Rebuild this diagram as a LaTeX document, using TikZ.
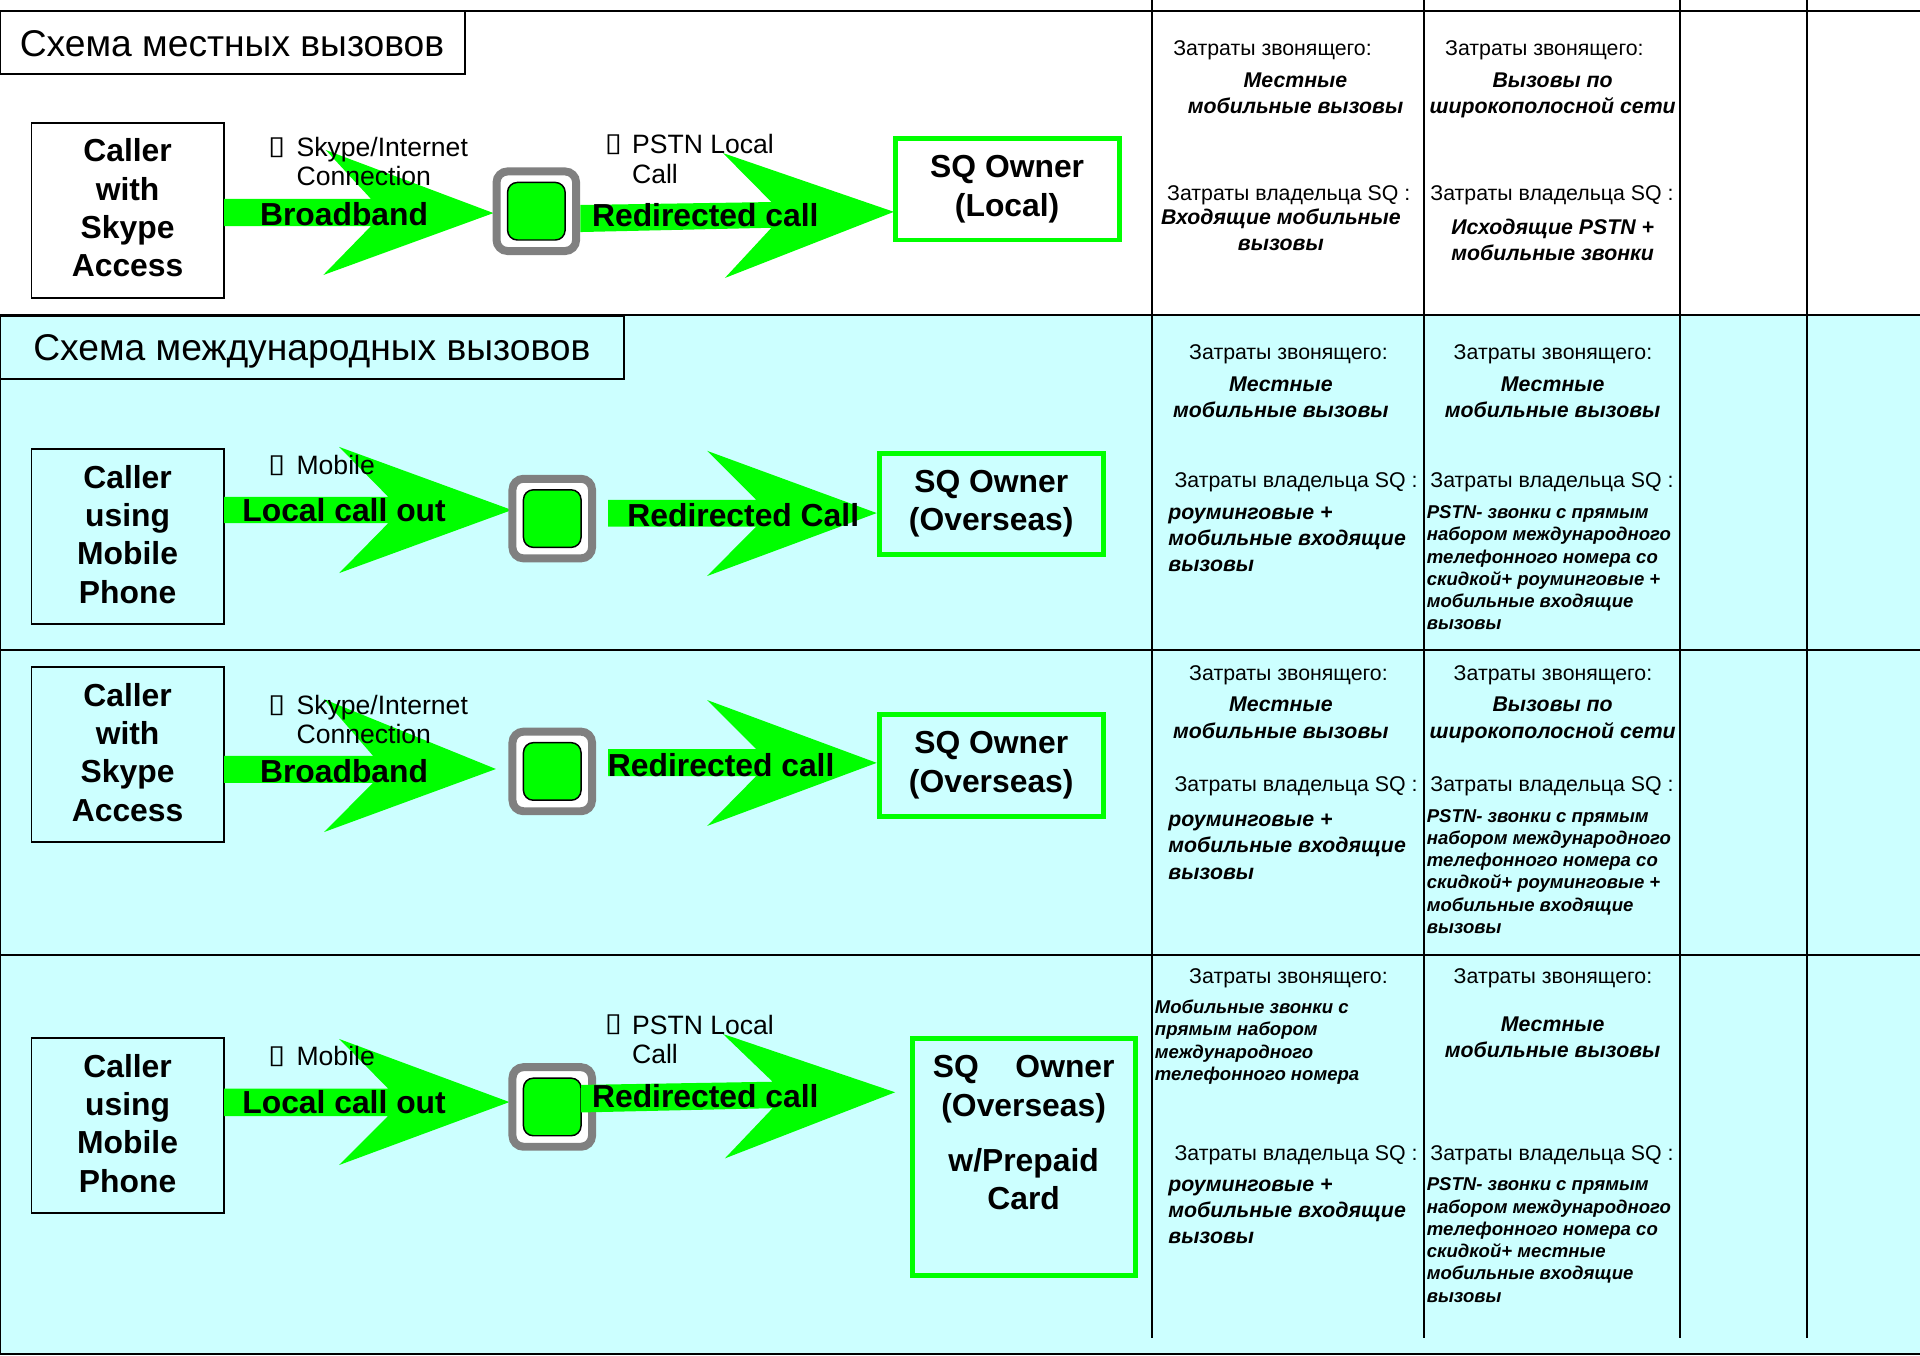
\documentclass[tikz,border=0pt]{standalone}
\usepackage{fontspec}
\setmainfont{Liberation Sans}
\newfontfamily\tofufont{DejaVu Sans}
\definecolor{bgcyan}{HTML}{CCFFFF}
\definecolor{arrowgreen}{HTML}{00FF00}
\definecolor{framegray}{HTML}{808080}
\newcommand{\tofu}{\scalebox{1.5}[1.25]{\tofufont\fontsize{17}{17}\selectfont ▯}}
% block arrow: left x, left top y, left bottom y, notch x, notch top y, notch bottom y, tip top, apex, tip bottom
\newcommand{\blockarrow}[9]{\fill[arrowgreen] (#1,#2) -- (#4,#5) -- (#7) -- (#8) -- (#9) -- (#4,#6) -- (#1,#3) -- cycle;}
\newcommand{\dialbox}[3]{% name, outer left, outer top
  \node[dialouter] (#1o) at (#2+35.5,#3+36) {};
  \node[dialinner] (#1i) at (#1o.center) {};}
\tikzset{
  x=1pt,y=-1pt,
  tablerule/.style={line width=1.6pt,black},
  titlebox/.style={draw=black,line width=1.5pt,fill=#1,anchor=north west,minimum height=51.5pt,inner sep=0pt},
  titletext/.style={font=\fontsize{30.4}{36}\selectfont,text height=21.9pt,text depth=6.4pt,inner sep=0pt,anchor=west,yshift=-2.5pt},
  callerbox/.style={draw=black,line width=1.4pt,minimum width=157pt,minimum height=143pt,anchor=north west,inner sep=0pt,align=center,text depth=4pt,font=\fontsize{26}{31.3}\selectfont\bfseries},
  ownerbox/.style={draw=arrowgreen,line width=4pt,fill=#1,anchor=north west,inner sep=0pt,align=center,font=\fontsize{26}{31.3}\selectfont\bfseries},
  dialouter/.style={draw=framegray,line width=6.5pt,fill=white,rounded corners=9pt,minimum size=65pt,inner sep=0pt},
  dialinner/.style={draw=black,line width=1.2pt,fill=arrowgreen,rounded corners=8pt,minimum size=47pt,inner sep=0pt},
  flow/.style={font=\fontsize{26}{31.3}\selectfont\bfseries,text height=18.7pt,text depth=5.5pt,inner sep=0pt,yshift=-2.5pt},
  lab/.style={font=\fontsize{21.7}{24}\selectfont,text height=15.6pt,text depth=4.6pt,inner sep=0pt,anchor=west,align=left,yshift=-2pt},
  tofumark/.style={inner sep=0pt,anchor=center},
  hd/.style={font=\fontsize{17.4}{22}\selectfont,text height=12.5pt,text depth=3.7pt,inner sep=0pt,anchor=west,yshift=-2pt},
  bi/.style={font=\fontsize{17.4}{21.5}\selectfont\bfseries\itshape,text height=12.5pt,text depth=3.7pt,inner sep=0pt,align=center,yshift=-1.5pt},
  bil/.style={bi,align=left,anchor=west},
  sm/.style={font=\fontsize{15.15}{18.2}\selectfont\bfseries\itshape,text height=11pt,text depth=3.2pt,inner sep=0pt,align=left,anchor=west,yshift=-1.5pt},
}
\begin{document}
\begin{tikzpicture}
\useasboundingbox (0,0) rectangle (1568,1106.6);
\fill[white] (0,0) rectangle (1568,1106.6);
\fill[bgcyan] (0,257) rectangle (1568,1106);
% table rules
\draw[tablerule] (941,0) -- (941,1093);
\draw[tablerule] (1163,0) -- (1163,1093);
\draw[tablerule] (1372,0) -- (1372,1093);
\draw[tablerule] (1476,0) -- (1476,1093);
\draw[tablerule] (0,9) -- (1568,9);
\draw[tablerule] (0,257) -- (1568,257);
\draw[tablerule] (0,531) -- (1568,531);
\draw[tablerule] (0,780) -- (1568,780);
\draw[tablerule] (0,1106) -- (1568,1106);
\draw[tablerule] (0,257) -- (0,1106);
% title boxes
\node[titlebox=white,minimum width=380pt] (t1box) at (-1,8.5) {};
\node[titletext] (t1) at (16,36) {Схема местных вызовов};
\node[titlebox=bgcyan,minimum width=510pt] (t2box) at (-1,257) {};
\node[titletext] (t2) at (27,284) {Схема международных вызовов};

% ---- row 1
\node[callerbox] (c1) at (25,99.5) {Caller\\with\\Skype\\Access};
\blockarrow{183}{162.5}{184.6}{303}{162.5}{184.6}{266,122.5}{403,174}{264,224.6}
\dialbox{d1}{402.5}{136.5}
\blockarrow{474}{167.4}{189.5}{630}{165}{186}{590.4,125}{730,173}{592,227}
\node[ownerbox=white,minimum width=183pt,minimum height=83pt] (o1) at (729,111) {SQ Owner\\(Local)};
\node[tofumark] (m1a) at (226,120.5) {\tofu};
\node[lab] (l1a) at (242,144) {Skype/Internet\\Connection};
\node[tofumark] (m1b) at (501,118) {\tofu};
\node[lab] (l1b) at (516,142) {PSTN Local\\Call};
\node[flow] (f1a) at (281,175) {Broadband};
\node[flow] (f1b) at (576,176) {Redirected call};

% ---- row 2
\node[callerbox] (c2) at (25,366) {Caller\\using\\Mobile\\Phone};
\blockarrow{183}{405.7}{427.3}{317}{405.7}{427.3}{277,365}{418,416.5}{277,468}
\dialbox{d2}{415.5}{387.5}
\blockarrow{496.6}{408.3}{430}{617.6}{408.3}{430}{577.5,368.2}{716,419}{577.5,470.4}
\node[ownerbox=bgcyan,minimum width=183pt,minimum height=83pt] (o2) at (716,368) {SQ Owner\\(Overseas)};
\node[tofumark] (m2a) at (226,380) {\tofu};
\node[lab] (l2a) at (242,380) {Mobile};
\node[flow] (f2a) at (281,417) {Local call out};
\node[flow] (f2b) at (607,421) {Redirected Call};

% ---- row 3
\node[callerbox] (c3) at (25,544) {Caller\\with\\Skype\\Access};
\blockarrow{183}{617.2}{639.4}{304.6}{617.2}{639.4}{264.6,571}{405,628}{264.6,679.5}
\dialbox{d3}{415.5}{594}
\blockarrow{496.6}{611.7}{633.8}{617.6}{611.7}{633.8}{577.5,571.7}{716,623}{577.5,674.5}
\node[ownerbox=bgcyan,minimum width=183pt,minimum height=83pt] (o3) at (716,581.5) {SQ Owner\\(Overseas)};
\node[tofumark] (m3a) at (226,576) {\tofu};
\node[lab] (l3a) at (242,600) {Skype/Internet\\Connection};
\node[flow] (f3a) at (281,630) {Broadband};
\node[flow] (f3b) at (589,625) {Redirected call};

% ---- row 4
\node[callerbox] (c4) at (25,847) {Caller\\using\\Mobile\\Phone};
\blockarrow{183}{889}{911.4}{317}{889}{911.4}{277,848.5}{416,900}{277,951.4}
\dialbox{d4}{415.5}{868}
\blockarrow{474.5}{886}{908.5}{631}{883.4}{905}{590.4,844.4}{731,892}{592,946}
\node[ownerbox=bgcyan,minimum width=182pt,minimum height=194pt] (o4) at (743,846) {};
\node[flow,align=center] (o4t) at (836,979) {SQ\hspace{30pt}Owner\\(Overseas)\\[14pt]w/Prepaid\\Card};
\node[tofumark] (m4a) at (226,863) {\tofu};
\node[lab] (l4a) at (242,863) {Mobile};
\node[tofumark] (m4b) at (501,837) {\tofu};
\node[lab] (l4b) at (516,861) {PSTN Local\\Call};
\node[flow] (f4a) at (281,900) {Local call out};
\node[flow] (f4b) at (576,895) {Redirected call};

% ---- cost texts, row 1
\node[hd] (a1h) at (958,39) {Затраты звонящего:};
\node[bi] (a1b) at (1058,87) {Местные\\мобильные вызовы};
\node[hd] (a1o) at (953,157) {Затраты владельца SQ :};
\node[bi] (a1p) at (1046,199) {Входящие мобильные\\вызовы};
\node[hd] (b1h) at (1180,39) {Затраты звонящего:};
\node[bi] (b1b) at (1268,87) {Вызовы по\\широкополосной сети};
\node[hd] (b1o) at (1168,157) {Затраты владельца SQ :};
\node[bi] (b1p) at (1268,207) {Исходящие PSTN +\\мобильные звонки};

% ---- row 2
\node[hd] (a2h) at (971,287) {Затраты звонящего:};
\node[bi] (a2b) at (1046,335) {Местные\\мобильные вызовы};
\node[hd] (a2o) at (959,392) {Затраты владельца SQ :};
\node[bil] (a2p) at (954,461) {роуминговые +\\мобильные входящие\\вызовы};
\node[hd] (b2h) at (1187,287) {Затраты звонящего:};
\node[bi] (b2b) at (1268,335) {Местные\\мобильные вызовы};
\node[hd] (b2o) at (1168,392) {Затраты владельца SQ :};
\node[sm] (b2p) at (1165,509) {PSTN- звонки с прямым\\набором международного\\телефонного номера со\\скидкой+ роуминговые +\\мобильные входящие\\вызовы};

% ---- row 3
\node[hd] (a3h) at (971,549) {Затраты звонящего:};
\node[bi] (a3b) at (1046,597) {Местные\\мобильные вызовы};
\node[hd] (a3o) at (959,640) {Затраты владельца SQ :};
\node[bil] (a3p) at (954,712) {роуминговые +\\мобильные входящие\\вызовы};
\node[hd] (b3h) at (1187,549) {Затраты звонящего:};
\node[bi] (b3b) at (1268,597) {Вызовы по\\широкополосной сети};
\node[hd] (b3o) at (1168,640) {Затраты владельца SQ :};
\node[sm] (b3p) at (1165,757) {PSTN- звонки с прямым\\набором международного\\телефонного номера со\\скидкой+ роуминговые +\\мобильные входящие\\вызовы};

% ---- row 4
\node[hd] (a4h) at (971,797) {Затраты звонящего:};
\node[sm] (a4b) at (943,877) {Мобильные звонки с\\прямым набором\\международного\\телефонного номера};
\node[hd] (a4o) at (959,941) {Затраты владельца SQ :};
\node[bil] (a4p) at (954,1010) {роуминговые +\\мобильные входящие\\вызовы};
\node[hd] (b4h) at (1187,797) {Затраты звонящего:};
\node[bi] (b4b) at (1268,858) {Местные\\мобильные вызовы};
\node[hd] (b4o) at (1168,941) {Затраты владельца SQ :};
\node[sm] (b4p) at (1165,1058) {PSTN- звонки с прямым\\набором международного\\телефонного номера со\\скидкой+ местные\\мобильные входящие\\вызовы};
\end{tikzpicture}
\end{document}
